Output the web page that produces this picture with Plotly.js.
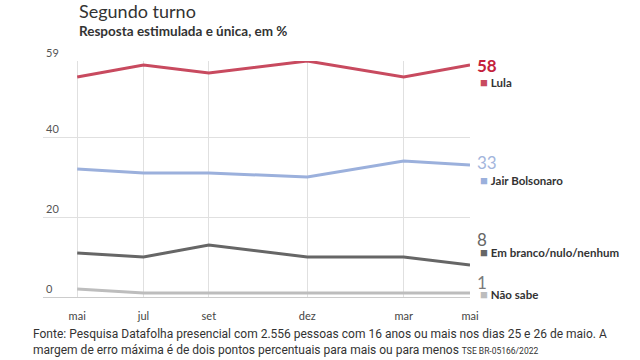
<!DOCTYPE html>
<html>
<head>
<meta charset="utf-8">
<script src="https://cdn.plot.ly/plotly-3.0.1.min.js"></script>
<style>html,body{margin:0;padding:0;background:#fff;}#chart{width:640px;height:360px;}</style>
</head>
<body>
<div id="chart"></div>
<script>
// Poll dates (positions)
const dates = ['2021-05-12', '2021-07-15', '2021-09-16', '2021-12-20', '2022-03-23', '2022-05-26'];
const tickLabels = ['mai', 'jul', 'set', 'dez', 'mar', 'mai'];

const seriesNames = ['Lula', 'Jair Bolsonaro', 'Em branco/nulo/nenhum', 'Não sabe'];
const lula = [55, 58, 56, 59, 55, 58];
const bolsonaro = [32, 31, 31, 30, 34, 33];
const branco = [11, 10, 13, 10, 10, 8];
const naoSabe = [2, 1, 1, 1, 1, 1];

const yTicks = [0, 20, 40, 59];

const lineColors = ['#c84a5f', '#9bb0dc', '#666666', '#bdbdbd'];
const valueColors = ['#c4223c', '#a3b5dc', '#666666', '#7a7a7a'];
const valueYShift = [0, 3, 26, 11];
const nameYShift = [-17, -15, 13, -1];

const allSeries = [lula, bolsonaro, branco, naoSabe];

const traces = allSeries.map((vals, i) => ({
  x: dates, y: vals, type: 'scatter', mode: 'lines',
  line: {color: lineColors[i], width: 3},
  name: seriesNames[i], hoverinfo: 'skip', showlegend: false
}));

const annotations = [];
allSeries.forEach((vals, i) => {
  const last = vals[vals.length - 1];
  annotations.push({
    xref: 'x', yref: 'y', x: dates[dates.length - 1], y: last,
    xanchor: 'left', yanchor: 'middle', xshift: 5, yshift: valueYShift[i],
    text: i === 0 ? '<b>' + last + '</b>' : String(last), showarrow: false,
    font: {family: 'Lato, sans-serif', size: 17, color: valueColors[i]}
  });
  annotations.push({
    xref: 'x', yref: 'y', x: dates[dates.length - 1], y: last,
    xanchor: 'left', yanchor: 'middle', xshift: 8, yshift: nameYShift[i],
    text: '<span style="color:' + lineColors[i] + ';font-size:13px">■</span> <b>' + seriesNames[i] + '</b>',
    showarrow: false,
    font: {family: 'Lato, sans-serif', size: 11.5, color: '#333'}
  });
});

annotations.push({
  xref: 'paper', yref: 'paper', x: 0.08, y: 1.212, xanchor: 'left', yanchor: 'middle',
  text: 'Segundo turno', showarrow: false,
  font: {family: 'Lato, sans-serif', size: 18, color: '#333'}
});
annotations.push({
  xref: 'paper', yref: 'paper', x: 0.08, y: 1.127, xanchor: 'left', yanchor: 'middle',
  text: '<b>Resposta estimulada e única, em %</b>', showarrow: false,
  font: {family: 'Lato, sans-serif', size: 13.5, color: '#333'}
});
annotations.push({
  xref: 'paper', yref: 'paper', x: -0.028, y: -0.19, xanchor: 'left', yanchor: 'middle', align: 'left',
  text: 'Fonte: Pesquisa Datafolha presencial com 2.556 pessoas com 16 anos ou mais nos dias 25 e 26 de maio. A<br>margem de erro máxima é de dois pontos percentuais para mais ou para menos <span style="font-size:8.5px">TSE BR-05166/2022</span>',
  showarrow: false,
  font: {family: 'Roboto, sans-serif', size: 12, color: '#333'}
});

const layout = {
  width: 640, height: 360,
  margin: {l: 43, r: 170, t: 61, b: 63, pad: 0},
  paper_bgcolor: '#fff', plot_bgcolor: '#fff',
  showlegend: false,
  xaxis: {
    type: 'date', range: ['2021-04-09', '2022-05-26'],
    tickvals: dates, ticktext: tickLabels, showgrid: true, gridcolor: '#e0e0e0', gridwidth: 1,
    zeroline: false, showline: false, ticks: 'outside', ticklen: 9, tickcolor: 'rgba(0,0,0,0)',
    tickfont: {family: 'Lato, sans-serif', size: 11, color: '#444'}
  },
  yaxis: {
    range: [0, 59], tickvals: yTicks, ticktext: yTicks.map(String),
    ticklabelposition: 'inside top', ticklabeloverflow: 'allow',
    showgrid: true, gridcolor: '#e0e0e0', gridwidth: 1,
    zeroline: true, zerolinecolor: '#cccccc', zerolinewidth: 1, showline: false, ticks: '',
    tickfont: {family: 'Lato, sans-serif', size: 11, color: '#555'}
  },
  annotations: annotations
};

Plotly.newPlot('chart', traces, layout, {displayModeBar: false, staticPlot: true});
</script>
</body>
</html>
